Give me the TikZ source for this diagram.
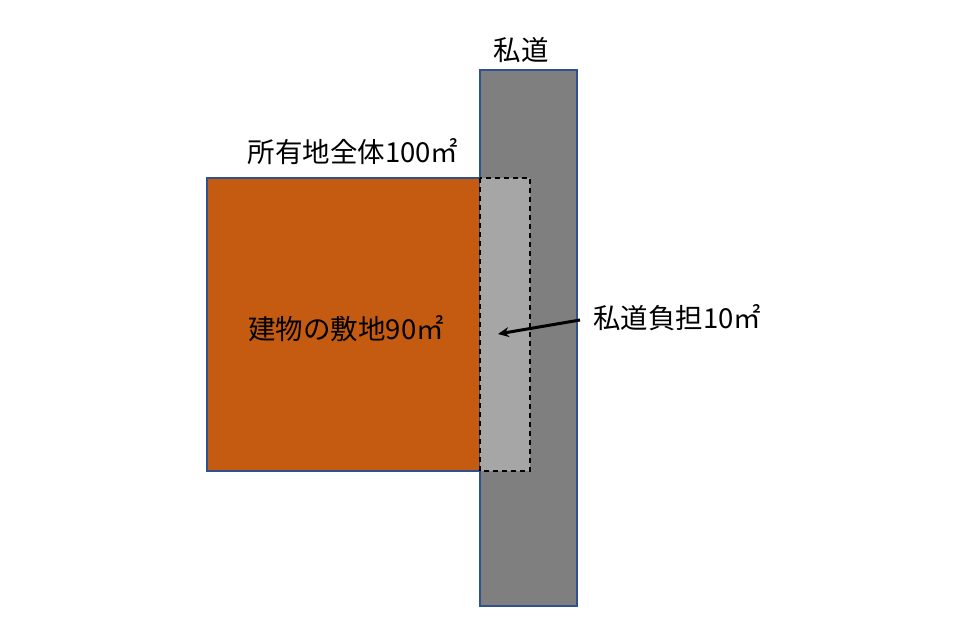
\documentclass[tikz,border=0pt]{standalone}
\usepackage{fontspec}
\usetikzlibrary{arrows.meta}
\setmainfont{Noto Sans CJK JP}
\begin{document}
\begin{tikzpicture}[x=1pt,y=-1pt,
  lbl/.style={font=\fontsize{27.5}{32}\selectfont, inner sep=0pt},
  outl/.style={draw={rgb,255:red,47;green,82;blue,143}, line width=2pt}]
\definecolor{lotc}{RGB}{197,90,17}
\definecolor{roadc}{RGB}{127,127,127}
\definecolor{sharec}{RGB}{166,166,166}
\useasboundingbox (0,0) rectangle (974,643);
\fill[white] (0,0) rectangle (974,643);
% road
\path[fill=roadc, outl] (480,70) rectangle (577,606);
% lot
\path[fill=lotc, outl] (207,178) rectangle (480,471);
% shared portion
\path[fill=sharec, draw=black, line width=2pt, dash pattern=on 5pt off 4pt] (480,178) rectangle (530,471);
\node[lbl] (road) at (521,50) {私道};
\node[lbl] (all) at (353,152) {所有地全体100㎡};
\node[lbl] (bld) at (346,329) {建物の敷地90㎡};
\node[lbl, anchor=west] (share) at (593,318) {私道負担10㎡};
\coordinate (tip) at (498,334);
\draw[line width=3pt, -{Stealth[length=11pt,width=10pt]}] (share.west) ++(-13,2) -- (tip);
\end{tikzpicture}
\end{document}
